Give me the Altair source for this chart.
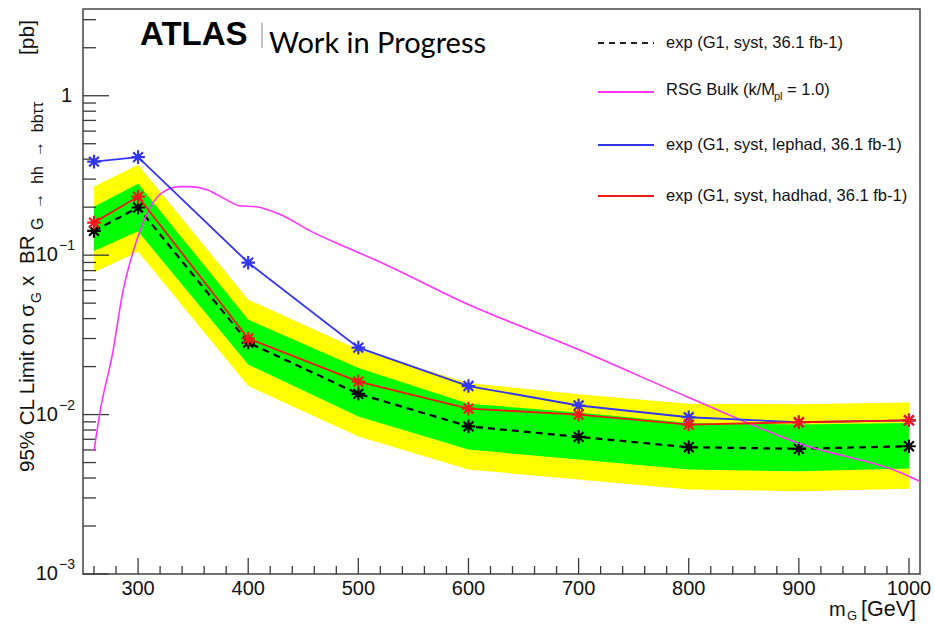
import altair as alt
import pandas as pd

# ---------------- data ----------------
mass = [260, 300, 400, 500, 600, 700, 800, 900, 1000]
exp_comb   = [0.142, 0.199, 0.0283, 0.0135, 0.00844, 0.00725, 0.00624, 0.00610, 0.00633]
exp_lephad = [0.386, 0.412, 0.0897, 0.0263, 0.0151, 0.0114, 0.00962, 0.00895, 0.00921]
exp_hadhad = [0.160, 0.233, 0.0300, 0.0161, 0.0109, 0.0100, 0.00866, 0.00895, 0.00921]
band_p2 = [0.270, 0.369, 0.0526, 0.0256, 0.0158, 0.0134, 0.0117, 0.0116, 0.0119]
band_p1 = [0.201, 0.280, 0.0394, 0.0196, 0.0117, 0.0103, 0.00887, 0.00866, 0.00887]
band_m1 = [0.106, 0.141, 0.0206, 0.00972, 0.00603, 0.00522, 0.00452, 0.00441, 0.00459]
band_m2 = [0.078, 0.105, 0.0151, 0.00728, 0.00452, 0.00391, 0.00339, 0.00331, 0.00342]

rsg_mass = [260, 265, 277, 286, 299, 311, 322, 338, 347, 362, 380, 392, 407, 429,
            458, 489, 519, 600, 700, 800, 900, 1000, 1010]
rsg_xsec = [0.0059, 0.0100, 0.0245, 0.058, 0.125, 0.199, 0.247, 0.269, 0.269, 0.258,
            0.223, 0.204, 0.201, 0.180, 0.140, 0.112, 0.091, 0.049, 0.0256, 0.0128,
            0.0066, 0.0041, 0.0038]

x_major_ticks = [300, 400, 500, 600, 700, 800, 900, 1000]
x_tick_labels = ["300", "400", "500", "600", "700", "800", "900", "1000"]
x_minor_ticks = [v for v in range(260, 1010, 20) if v % 100 != 0]
y_major_ticks = [0.001, 0.01, 0.1]
y_exp_labels = ["\u22123", "\u22122", "\u22121"]
y_one_tick = [1.0]
y_minor_ticks = [k * 10.0 ** e for e in (-3, -2, -1, 0) for k in range(2, 10) if k * 10.0 ** e < 3.5]

legend_labels = ["exp (G1, syst, 36.1 fb-1)",
                 "RSG Bulk (k/M", "pl", "= 1.0)",
                 "exp (G1, syst, lephad, 36.1 fb-1)",
                 "exp (G1, syst, hadhad, 36.1 fb-1)"]

W, H = 837, 565
FONT = "Liberation Sans"
TXT = "#111111"
STAR = "M-1,0L1,0M0,-1L0,1M-0.72,-0.72L0.72,0.72M-0.72,0.72L0.72,-0.72"

xs = alt.Scale(domain=[250, 1010], nice=False, zero=False)
ys = alt.Scale(type="log", domain=[0.001, 3.5], nice=False)

df = pd.DataFrame({"m": mass, "exp": exp_comb, "lep": exp_lephad, "had": exp_hadhad,
                   "p2": band_p2, "p1": band_p1, "m1": band_m1, "m2": band_m2})
rsg = pd.DataFrame({"m": rsg_mass, "v": rsg_xsec})

X = alt.X("m:Q", scale=xs, axis=None)

yellow = alt.Chart(df).mark_area(color="#ffff00", opacity=1).encode(
    X, y=alt.Y("p2:Q", scale=ys, axis=None), y2="m2:Q")
green = alt.Chart(df).mark_area(color="#00ff00", opacity=1).encode(
    X, y=alt.Y("p1:Q", scale=ys, axis=None), y2="m1:Q")


def series(field, color, dash=None, width=2.0):
    kw = {"color": color, "strokeWidth": width}
    if dash:
        kw["strokeDash"] = dash
    line = alt.Chart(df).mark_line(**kw).encode(X, y=alt.Y(f"{field}:Q", scale=ys, axis=None))
    pts = alt.Chart(df).mark_point(shape=STAR, filled=False, size=185, strokeWidth=2.2,
                                   color=color, opacity=1).encode(
        X, y=alt.Y(f"{field}:Q", scale=ys, axis=None))
    return line + pts


black = series("exp", "#000000", dash=[7, 5], width=2.2)
blue = series("lep", "#3434f4", width=1.8)
red = series("had", "#f01818", width=1.8)
pink = alt.Chart(rsg).mark_line(color="#ff33ff", strokeWidth=1.6, interpolate="monotone").encode(
    X, y=alt.Y("v:Q", scale=ys, axis=None))

# ---------------- axis ticks (inward, ROOT style) ----------------
TICK = "#3a3a3a"
ymaj_df = pd.DataFrame({"v": y_major_ticks + y_one_tick})
ymin_df = pd.DataFrame({"v": y_minor_ticks})
xmaj_df = pd.DataFrame({"m": x_major_ticks, "lab": x_tick_labels})
xmin_df = pd.DataFrame({"m": x_minor_ticks})

ymaj = alt.Chart(ymaj_df).mark_rule(color=TICK, strokeWidth=1.3).encode(
    y=alt.Y("v:Q", scale=ys, axis=None), x=alt.value(0), x2=alt.value(26))
ymin = alt.Chart(ymin_df).mark_rule(color=TICK, strokeWidth=1.3).encode(
    y=alt.Y("v:Q", scale=ys, axis=None), x=alt.value(0), x2=alt.value(13))
xmaj = alt.Chart(xmaj_df).mark_rule(color=TICK, strokeWidth=1.3).encode(
    x=alt.X("m:Q", scale=xs, axis=None), y=alt.value(H), y2=alt.value(H - 16))
xmin = alt.Chart(xmin_df).mark_rule(color=TICK, strokeWidth=1.3).encode(
    x=alt.X("m:Q", scale=xs, axis=None), y=alt.value(H), y2=alt.value(H - 8))

xlab = alt.Chart(xmaj_df).mark_text(font=FONT, fontSize=20, color=TXT, baseline="top").encode(
    x=alt.X("m:Q", scale=xs, axis=None), y=alt.value(H + 5), text="lab:N")

ylab_df = pd.DataFrame({"v": y_major_ticks, "e": y_exp_labels, "b": ["10"] * 3})
ylab10 = alt.Chart(ylab_df).mark_text(font=FONT, fontSize=20, color=TXT, align="right",
                                      baseline="middle").encode(
    y=alt.Y("v:Q", scale=ys, axis=None), x=alt.value(-25), text="b:N")
ylabexp = alt.Chart(ylab_df).mark_text(font=FONT, fontSize=14, color=TXT, align="left",
                                       baseline="middle", dy=-9).encode(
    y=alt.Y("v:Q", scale=ys, axis=None), x=alt.value(-24), text="e:N")
ylab1 = alt.Chart(pd.DataFrame({"v": y_one_tick, "t": ["1"]})).mark_text(
    font=FONT, fontSize=20, color=TXT, align="right", baseline="middle").encode(
    y=alt.Y("v:Q", scale=ys, axis=None), x=alt.value(-11), text="t:N")


def txt(s, x, y, size, **kw):
    opts = dict(font=FONT, fontSize=size, color=TXT, align="left", baseline="middle")
    opts.update(kw)
    return alt.Chart(pd.DataFrame({"t": [s]})).mark_text(**opts).encode(
        text="t:N", x=alt.value(x), y=alt.value(y))


# y-axis title (rotated, with subscripts)
YT_X = -55
NB = "\u00a0\u00a0"
ytitle = (
    txt("95% CL Limit on \u03c3", YT_X, 463, 20.5, angle=270)
    + txt("G", YT_X, 294, 14, angle=270, dy=9)
    + txt("x", YT_X, 277, 20.5, angle=270)
    + txt("BR", YT_X, 255, 20.5, angle=270)
    + txt("G" + NB + "\u2192" + NB + "hh" + NB + "\u2192" + NB + "bb\u03c4\u03c4",
          YT_X, 221, 16, angle=270, dy=10)
    + txt("[pb]", YT_X, 46, 21, angle=270)
)

# x-axis title
xtitle = (
    txt("m", 746, 601, 20)
    + txt("G", 764, 601, 13, dy=6)
    + txt("[GeV]", 778, 601, 21.5)
)

# ATLAS label
atlas = (
    txt("ATLAS", 57, 36, 33, fontWeight="bold", baseline="alphabetic", color="#000000")
    + alt.Chart(pd.DataFrame({"a": [0]})).mark_rule(color="#888888", strokeWidth=1).encode(
        x=alt.value(179), y=alt.value(14), y2=alt.value(39))
    + txt("Work in Progress", 186, 44, 29, font="Lato", baseline="alphabetic", color="#000000")
)

# legend
LX1, LX2, LT = 515, 571, 583
LFS = 16.5


def leg_line(y, color, dash=None):
    kw = {"color": color, "strokeWidth": 2}
    if dash:
        kw["strokeDash"] = dash
    return alt.Chart(pd.DataFrame({"a": [0]})).mark_rule(**kw).encode(
        x=alt.value(LX1), x2=alt.value(LX2), y=alt.value(y))


legend = (
    leg_line(34, "#222222", [6, 5]) + txt(legend_labels[0], LT, 33.5, LFS)
    + leg_line(83, "#ff33ff") + txt(legend_labels[1], LT, 81, LFS)
    + txt(legend_labels[2], 691, 81, 11, dy=7) + txt(legend_labels[3], 704, 81, LFS)
    + leg_line(136, "#3434f4") + txt(legend_labels[4], LT, 136, LFS)
    + leg_line(187, "#f01818") + txt(legend_labels[5], LT, 187, LFS)
)

chart = alt.layer(
    yellow, green, ymaj, ymin, xmaj, xmin, black, pink, blue, red,
    xlab, ylab10, ylabexp, ylab1, ytitle, xtitle, atlas, legend
).properties(
    width=W, height=H,
    padding={"left": 83, "top": 9, "right": 15, "bottom": 54},
    autosize="none", background="white"
).configure_view(stroke="#444444", strokeWidth=1.5)

chart.save("out.html", embed_options={"renderer": "svg", "actions": False})
